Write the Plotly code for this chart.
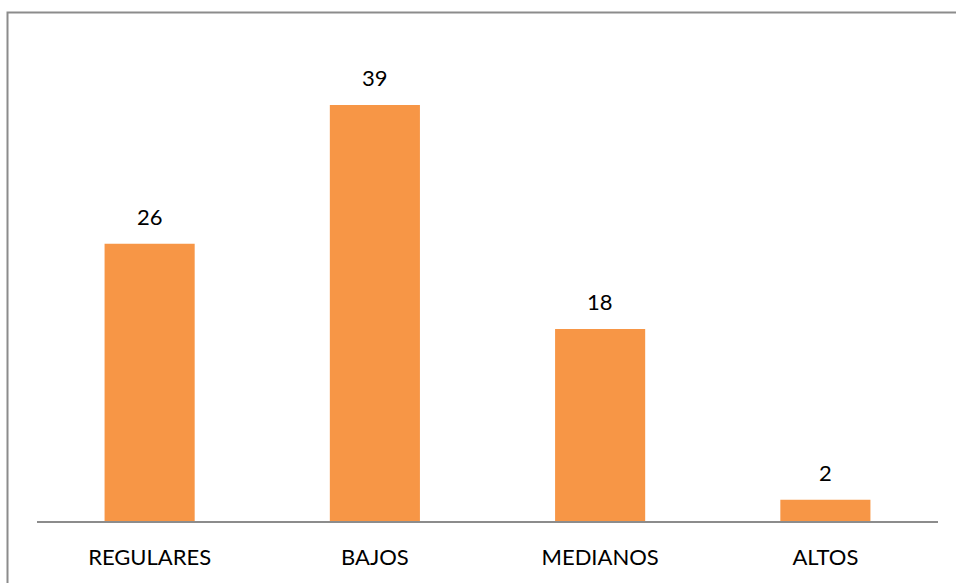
import plotly.graph_objects as go

categories = ["REGULARES", "BAJOS", "MEDIANOS", "ALTOS"]
values = [26, 39, 18, 2]

bar_color = "#F79646"
font_family = "Lato, Open Sans, sans-serif"

fig = go.Figure(
    go.Bar(
        x=categories,
        y=values,
        marker=dict(color=bar_color, line=dict(width=0)),
        width=0.4,
        hoverinfo="x+y",
    )
)

annotations = [
    dict(
        x=c,
        y=v,
        xref="x",
        yref="y",
        text=str(v),
        showarrow=False,
        yanchor="bottom",
        yshift=12,
        font=dict(family=font_family, size=22, color="#000000"),
    )
    for c, v in zip(categories, values)
]

fig.update_layout(
    width=956,
    height=583,
    margin=dict(l=37, r=18, t=41, b=62),
    paper_bgcolor="white",
    plot_bgcolor="white",
    showlegend=False,
    font=dict(family=font_family, size=22, color="#000000"),
    xaxis=dict(
        showline=True,
        linecolor="#8C8C8C",
        linewidth=2,
        ticks="",
        showgrid=False,
        tickfont=dict(family=font_family, size=22, color="#000000"),
        ticklabelstandoff=16,
    ),
    yaxis=dict(
        range=[0, 45],
        visible=False,
        showgrid=False,
        zeroline=False,
    ),
    annotations=annotations,
    shapes=[
        dict(
            type="rect",
            xref="paper",
            yref="paper",
            x0=(7.5 - 37) / 901,
            x1=1.2,
            y0=-0.3,
            y1=(521 - 12.5) / 480,
            line=dict(color="#8C8C8C", width=2),
            fillcolor="rgba(0,0,0,0)",
            layer="below",
        )
    ],
)

fig.write_html("out.html")
